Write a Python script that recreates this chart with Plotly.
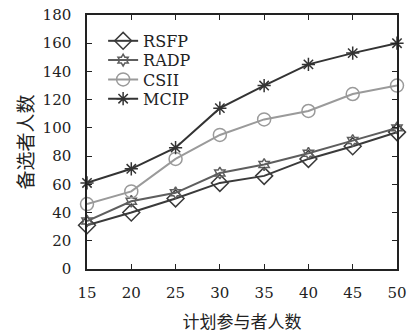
import plotly.graph_objects as go

x_vals = [15, 20, 25, 30, 35, 40, 45, 50]
rsfp = [31, 40, 50, 61, 66, 78, 87, 97]
radp = [34, 48, 54, 68, 74, 82, 91, 100]
csii = [46, 55, 78, 95, 106, 112, 124, 130]
mcip = [61, 71, 86, 114, 130, 145, 153, 160]
y_ticks = [0, 20, 40, 60, 80, 100, 120, 140, 160, 180]

series = [
    ("RSFP", rsfp, "#3a3a3a", "diamond-open", 13),
    ("RADP", radp, "#5e5e5e", "hexagram-open", 9),
    ("CSII", csii, "#9a9a9a", "circle-open", 13),
    ("MCIP", mcip, "#333333", "asterisk-open", 11),
]
legend_names = ["legend", "legend2", "legend3", "legend4"]
legend_y = [0.898, 0.822, 0.746, 0.670]

serif = "DejaVu Serif"
cjk = "Noto Sans CJK SC"

fig = go.Figure()
for (name, ys, col, sym, sz), lg in zip(series, legend_names):
    fig.add_trace(go.Scatter(
        x=x_vals, y=ys, name=name, mode="lines+markers",
        line=dict(color=col, width=2),
        marker=dict(symbol=sym, size=sz, color=col, line=dict(color=col, width=1.5)),
        cliponaxis=False, legend=lg,
    ))

legend_cfg = {}
for lg, ly in zip(legend_names, legend_y):
    legend_cfg[lg] = dict(x=0.052, y=ly, xanchor="left", yanchor="middle",
                          bgcolor="rgba(0,0,0,0)",
                          font=dict(family=serif, size=16, color="#222"),
                          itemwidth=30)

fig.update_layout(
    width=407, height=334,
    margin=dict(l=87, r=10, t=15, b=65),
    paper_bgcolor="white", plot_bgcolor="white",
    font=dict(family=serif, size=15, color="#222"),
    showlegend=True,
    **legend_cfg,
    xaxis=dict(range=[15, 50], tickvals=x_vals, ticks="inside", ticklen=5,
               tickcolor="#222", showline=True, linecolor="#222", linewidth=1.5,
               mirror="ticks", showgrid=False, zeroline=False, automargin=False,
               ticklabelstandoff=9,
               tickfont=dict(family=serif, size=15, color="#222"),
               title=dict(text="计划参与者人数", font=dict(family=cjk, size=17, color="#222"), standoff=15)),
    yaxis=dict(range=[0, 180], tickvals=y_ticks, ticks="inside", ticklen=5,
               tickcolor="#222", showline=True, linecolor="#222", linewidth=1.5,
               mirror="ticks", showgrid=False, zeroline=False, automargin=False,
               ticklabelstandoff=11,
               tickfont=dict(family=serif, size=15, color="#222"),
               title=dict(text="备选者人数", font=dict(family=cjk, size=19, color="#222"), standoff=4)),
)

fig.write_html("out.html", config={"displayModeBar": False},
               post_script="document.body.style.margin='0';document.body.style.overflow='hidden';")
